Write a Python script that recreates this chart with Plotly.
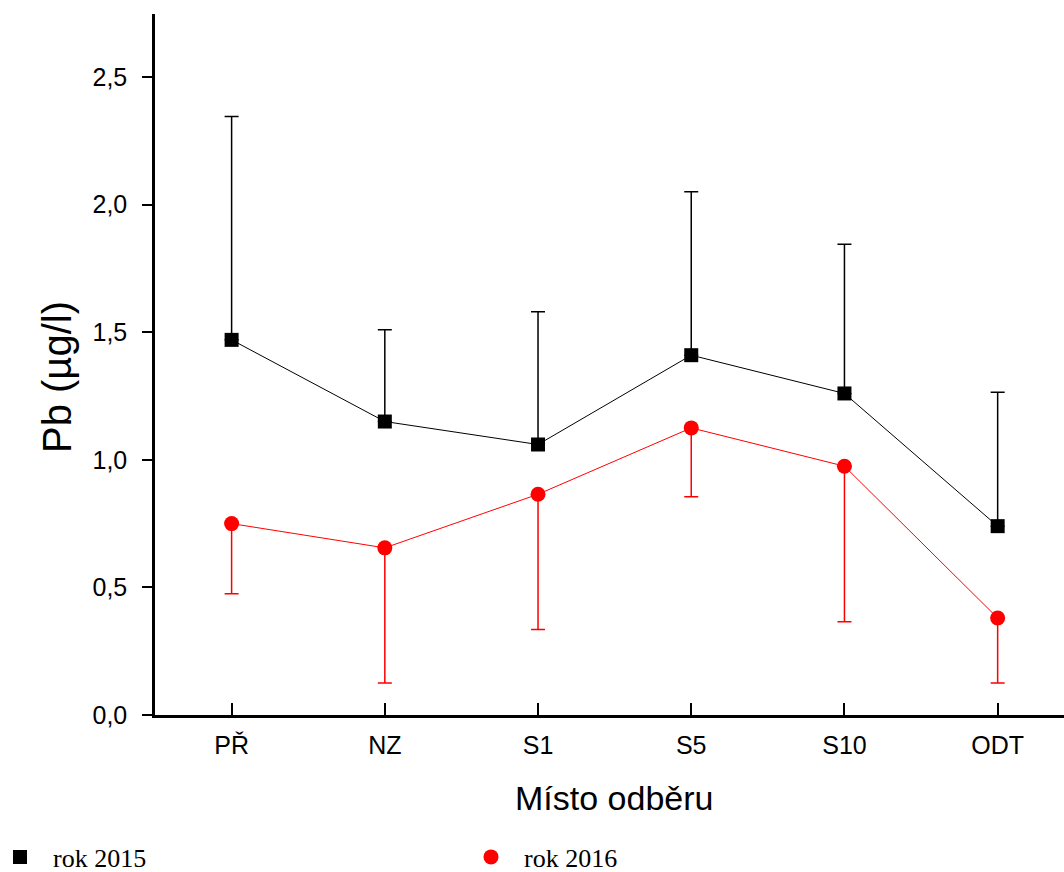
import plotly.graph_objects as go

categories = ["PŘ", "NZ", "S1", "S5", "S10", "ODT"]
pb_2015 = [1.47, 1.15, 1.06, 1.41, 1.26, 0.74]
err_2015_up = [0.875, 0.36, 0.52, 0.64, 0.585, 0.525]
pb_2016 = [0.75, 0.655, 0.865, 1.125, 0.975, 0.38]
err_2016_down = [0.275, 0.53, 0.53, 0.27, 0.61, 0.255]
y_ticks = [0.0, 0.5, 1.0, 1.5, 2.0, 2.5]

x_idx = list(range(len(categories)))
BLACK = "#000000"
RED = "#ff0000"
W, H = 1064, 872
ML, MR, MT, MB = 155, 0, 14, 157
PW, PH = W - ML - MR, H - MT - MB

fig = go.Figure()

# connecting lines
fig.add_trace(go.Scatter(x=x_idx, y=pb_2015, mode="lines",
                         line=dict(color=BLACK, width=1), showlegend=False, hoverinfo="skip"))
fig.add_trace(go.Scatter(x=x_idx, y=pb_2016, mode="lines",
                         line=dict(color=RED, width=1), showlegend=False, hoverinfo="skip"))

# markers with error bars
fig.add_trace(go.Scatter(
    x=x_idx, y=pb_2015, mode="markers", name="\u00a0\u00a0rok 2015",
    marker=dict(symbol="square", size=14, color=BLACK),
    error_y=dict(type="data", symmetric=False, array=err_2015_up,
                 arrayminus=[0] * len(err_2015_up), color=BLACK, thickness=1.5, width=7),
    legend="legend"))
fig.add_trace(go.Scatter(
    x=x_idx, y=pb_2016, mode="markers", name="\u00a0\u00a0rok 2016",
    marker=dict(symbol="circle", size=15, color=RED),
    error_y=dict(type="data", symmetric=False, array=[0] * len(err_2016_down),
                 arrayminus=err_2016_down, color=RED, thickness=1.5, width=7),
    legend="legend2"))

legend_font = dict(family="Liberation Serif, Times New Roman, serif", size=26, color=BLACK)

fig.update_layout(
    width=W, height=H,
    margin=dict(l=ML, r=MR, t=MT, b=MB, autoexpand=False),
    paper_bgcolor="white", plot_bgcolor="white",
    separators=", ",
    font=dict(family="Liberation Sans, Arial, sans-serif", color=BLACK),
    legend=dict(xref="container", yref="container", x=0.0, y=1 - 857 / H,
                xanchor="left", yanchor="middle",
                font=legend_font, bgcolor="rgba(0,0,0,0)"),
    legend2=dict(xref="container", yref="container", x=471 / W, y=1 - 857 / H,
                 xanchor="left", yanchor="middle",
                 font=legend_font, bgcolor="rgba(0,0,0,0)"),
    xaxis=dict(
        range=[-0.5, 5.433], tickmode="array", tickvals=x_idx, ticktext=categories,
        showline=True, linecolor=BLACK, linewidth=2.5, mirror=False,
        ticks="inside", ticklen=12, tickwidth=2, tickcolor=BLACK,
        showgrid=False, zeroline=False, automargin=False,
        tickfont=dict(size=25, color=BLACK), ticklabelstandoff=6,
    ),
    yaxis=dict(
        range=[0, 2.747], tickmode="array", tickvals=y_ticks, tickformat=".1f",
        showline=True, linecolor=BLACK, linewidth=2.5, automargin=False,
        ticks="outside", ticklen=10, tickwidth=2, tickcolor=BLACK,
        showgrid=False, zeroline=False,
        tickfont=dict(size=25, color=BLACK), ticklabelstandoff=10,
    ),
    annotations=[
        dict(text="Místo odběru", xref="paper", yref="paper",
             x=(614 - ML) / PW, y=-(798 - (H - MB)) / PH, xanchor="center", yanchor="middle",
             showarrow=False, font=dict(size=34, color=BLACK)),
        dict(text="Pb (µg/l)", xref="paper", yref="paper", textangle=-90,
             x=-(ML - 57) / PW, y=(H - MB - 377) / PH, xanchor="center", yanchor="middle",
             showarrow=False, font=dict(size=40, color=BLACK)),
    ],
)

fig.write_html("out.html")
